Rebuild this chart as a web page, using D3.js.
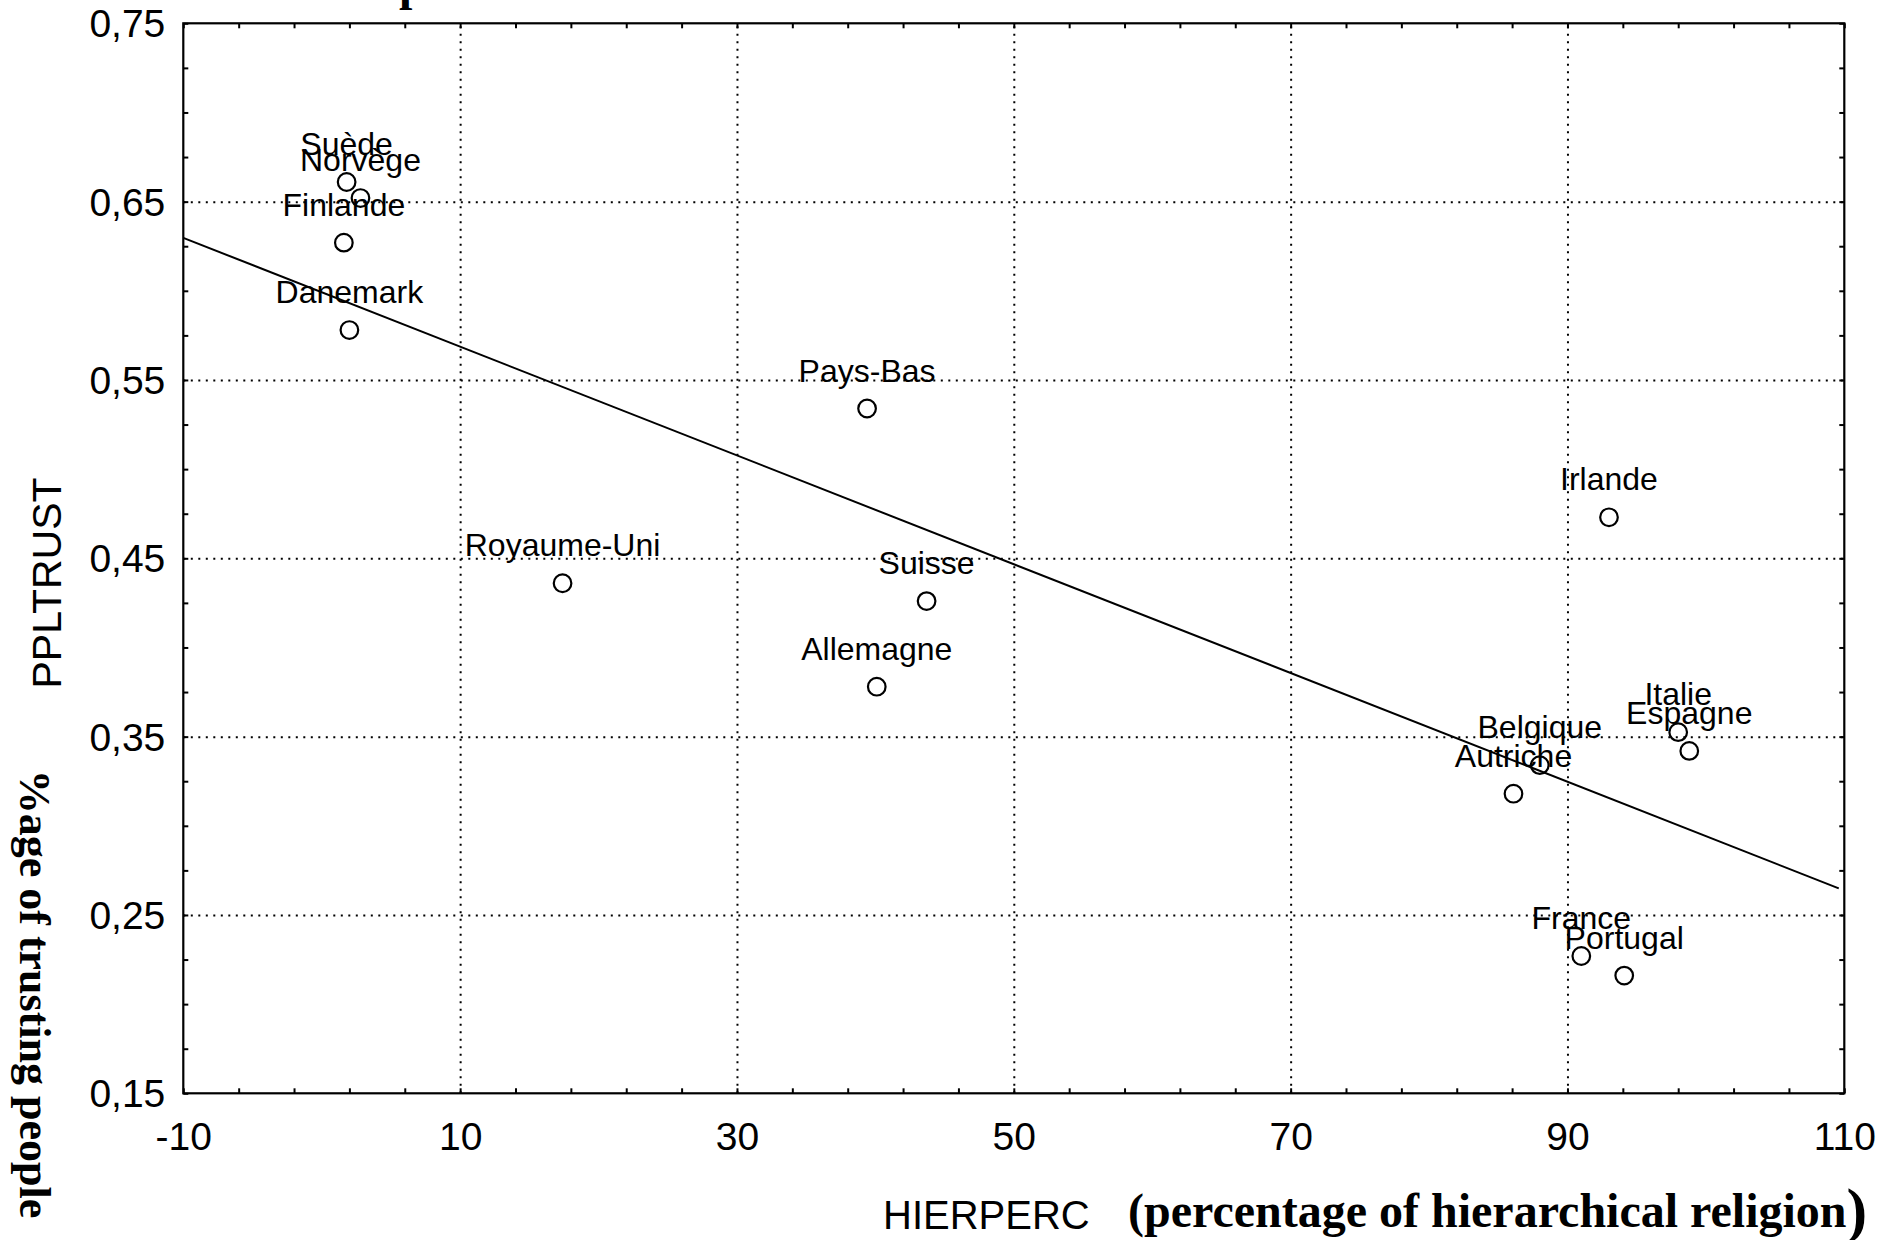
<!DOCTYPE html>
<html>
<head>
<meta charset="utf-8">
<script src="https://cdn.jsdelivr.net/npm/d3@7"></script>
<style>
  body { margin: 0; background: #fff; }
  svg { display: block; }
  .tickLabel text { font-family: "Liberation Sans", Arial, sans-serif; font-size: 39px; fill: #000; }
  .minor line, .gridX line, .gridY line { stroke: #000; }
  .gridX line, .gridY line { stroke-width: 2; stroke-dasharray: 2 5.5; }
  .minor line { stroke-width: 2; }
  .country { font-family: "Liberation Sans", Arial, sans-serif; font-size: 32px; fill: #000; }
  .sansTitle { font-family: "Liberation Sans", Arial, sans-serif; font-size: 41px; fill: #000; }
  .serifTitle { font-family: "Liberation Serif", "Times New Roman", serif; font-weight: bold; fill: #000; }
</style>
</head>
<body>
<div id="chart"></div>
<script>
// data //
const countries = ["Suède", "Norvège", "Finlande", "Danemark", "Pays-Bas", "Royaume-Uni", "Suisse",
  "Allemagne", "Irlande", "Belgique", "Autriche", "Italie", "Espagne", "France", "Portugal"];
const hierperc = [1.8, 2.8, 1.6, 2.0, 39.4, 17.4, 43.7, 40.1, 93.0, 88.0, 86.1, 98.0, 98.8, 91.0, 94.1];
const ppltrust = [0.661, 0.652, 0.627, 0.578, 0.534, 0.436, 0.426, 0.378, 0.473, 0.334, 0.318, 0.3525, 0.342, 0.227, 0.216];

// ticks //
const xTicks = [-10, 10, 30, 50, 70, 90, 110];
const yTicks = [0.15, 0.25, 0.35, 0.45, 0.55, 0.65, 0.75];
const xMinor = d3.range(-10, 110.01, 4);
const yMinor = d3.range(0.15, 0.7501, 0.025);
const fitRange = [-10, 109.6];

const W = 1901, H = 1240;
const margin = {top: 23.3, right: 56.7, bottom: 146.7, left: 183.3},
    width = W - margin.left - margin.right,
    height = H - margin.top - margin.bottom;

const locale = d3.formatLocale({decimal: ",", thousands: " ", grouping: [3], currency: ["", ""], minus: "-"});

const svg = d3.select("#chart")
  .append("svg")
  .attr("width", W)
  .attr("height", H)
  .style("background", "#fff");

const g = svg.append("g")
  .attr("transform", `translate(${margin.left}, ${margin.top})`);

const x = d3.scaleLinear().domain([-10, 110]).range([0, width]);
const y = d3.scaleLinear().domain([0.15, 0.75]).range([height, 0]);

// dotted grid, inner majors only
g.append("g")
  .attr("class", "gridX")
  .attr("transform", `translate(0, ${height})`)
  .call(d3.axisBottom(x).tickValues(xTicks.slice(1, -1)).tickSize(-height).tickFormat(""))
  .call(s => s.select(".domain").remove());

g.append("g")
  .attr("class", "gridY")
  .call(d3.axisLeft(y).tickValues(yTicks.slice(1, -1)).tickSize(-width).tickFormat(""))
  .call(s => s.select(".domain").remove());

// inward ticks on all four sides
const minorAxes = [
  [d3.axisBottom(x).tickValues(xMinor), `translate(0, ${height})`],
  [d3.axisTop(x).tickValues(xMinor), `translate(0, 0)`],
  [d3.axisLeft(y).tickValues(yMinor), `translate(0, 0)`],
  [d3.axisRight(y).tickValues(yMinor), `translate(${width}, 0)`]
];
minorAxes.forEach(([ax, tr]) => {
  g.append("g")
    .attr("class", "minor")
    .attr("transform", tr)
    .call(ax.tickSize(-5).tickFormat(""))
    .call(s => s.select(".domain").remove());
});

// tick labels
g.append("g")
  .attr("class", "tickLabel")
  .attr("transform", `translate(0, ${height})`)
  .call(d3.axisBottom(x).tickValues(xTicks).tickSize(0).tickPadding(29).tickFormat(locale.format("d")))
  .call(s => s.select(".domain").remove());

g.append("g")
  .attr("class", "tickLabel")
  .call(d3.axisLeft(y).tickValues(yTicks).tickSize(0).tickPadding(18).tickFormat(locale.format(".2f")))
  .call(s => s.select(".domain").remove())
  .call(s => s.selectAll("text").attr("dy", "0.35em"));

g.selectAll(".tickLabel text").attr("font-family", null).attr("font-size", null);

// frame
g.append("rect")
  .attr("x", 0)
  .attr("y", 0)
  .attr("width", width)
  .attr("height", height)
  .attr("fill", "none")
  .attr("stroke", "#000")
  .attr("stroke-width", 2.2);

// regression line (least squares) //
const mx = d3.mean(hierperc), my = d3.mean(ppltrust);
const sxy = d3.sum(hierperc, (v, i) => (v - mx) * (ppltrust[i] - my));
const sxx = d3.sum(hierperc, v => (v - mx) * (v - mx));
const slope = sxy / sxx, intercept = my - slope * mx;

g.append("path")
  .datum(fitRange)
  .attr("fill", "none")
  .attr("stroke", "#000")
  .attr("stroke-width", 2)
  .attr("d", d3.line().x(d => x(d)).y(d => y(intercept + slope * d)));

// points + labels
const pts = g.append("g").selectAll("g")
  .data(countries.map((c, i) => ({name: c, hx: hierperc[i], py: ppltrust[i]})))
  .join("g")
  .attr("transform", d => `translate(${x(d.hx)}, ${y(d.py)})`);

pts.append("circle")
  .attr("r", 8.8)
  .attr("fill", "none")
  .attr("stroke", "#000")
  .attr("stroke-width", 2.2);

pts.append("text")
  .attr("class", "country")
  .attr("text-anchor", "middle")
  .attr("y", -27)
  .text(d => d.name);

// axis titles
svg.append("text")
  .attr("class", "sansTitle")
  .attr("transform", "translate(61, 583) rotate(-90)")
  .attr("text-anchor", "middle")
  .text("PPLTRUST");

svg.append("text")
  .attr("class", "serifTitle")
  .attr("transform", "translate(20, 994) rotate(90)")
  .attr("text-anchor", "middle")
  .style("font-size", "44px")
  .text("%age of trusting people");

svg.append("text")
  .attr("class", "sansTitle")
  .attr("x", 883)
  .attr("y", 1229)
  .style("font-size", "40px")
  .text("HIERPERC");

const xt = svg.append("text")
  .attr("class", "serifTitle")
  .attr("x", 1128)
  .attr("y", 1227)
  .style("font-size", "48px");
xt.append("tspan").text("(percentage of hierarchical religion");
xt.append("tspan").style("font-size", "62px").attr("dy", 4).text(")");

// cut-off title at the very top
svg.append("text")
  .attr("class", "serifTitle")
  .attr("x", 399)
  .attr("y", 0)
  .style("font-size", "48px")
  .text("p");
</script>
</body>
</html>
